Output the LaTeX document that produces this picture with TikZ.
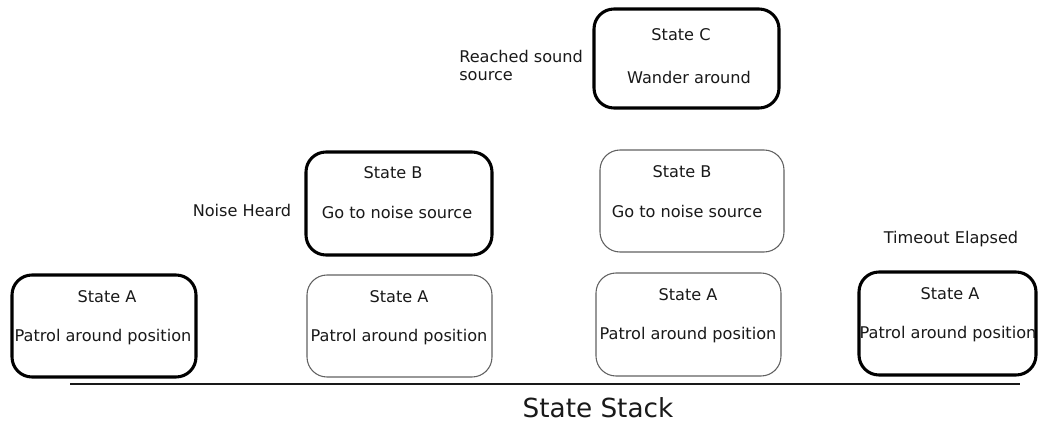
\documentclass[tikz,border=0pt]{standalone}
\usepackage{fontspec}
\setmainfont{DejaVu Sans}
\begin{document}
\begin{tikzpicture}[x=0.75pt,y=-0.75pt,
  statebox/.style={draw=black,line width=2.3pt,rounded corners=15pt,inner sep=0pt},
  thinbox/.style={draw=black!62,line width=0.8pt,rounded corners=15pt,inner sep=0pt},
  txt/.style={font=\fontsize{12.1}{14}\selectfont,inner sep=0pt,text=black!90}]
\useasboundingbox (0,0) rectangle (1038,421);
% boxes
\path[statebox] (12,275) rectangle (196,377);
\node[inner sep=0pt] (a1) at (104,326) {};
\path[thinbox] (307,275) rectangle (492,377);
\node[inner sep=0pt] (a2) at (399.5,326) {};
\path[thinbox] (596,273) rectangle (781,376);
\node[inner sep=0pt] (a3) at (688.5,324.5) {};
\path[statebox] (859,272) rectangle (1036,375);
\node[inner sep=0pt] (a4) at (947.5,323.5) {};
\path[statebox] (306,152) rectangle (492,255);
\node[inner sep=0pt] (b1) at (399,203.5) {};
\path[thinbox] (600,150) rectangle (784,252);
\node[inner sep=0pt] (b2) at (692,201) {};
\path[statebox] (594,9) rectangle (779,108);
\node[inner sep=0pt] (c) at (686.5,58.5) {};
% box texts
\node[txt] (a1t) at (107,297) {State A};
\node[txt] (a1d) at (103,337) {Patrol around position};
\node[txt] (a2t) at (399,297) {State A};
\node[txt] (a2d) at (399,337) {Patrol around position};
\node[txt] (a3t) at (688,295) {State A};
\node[txt] (a3d) at (688,335) {Patrol around position};
\node[txt] (a4t) at (950,294) {State A};
\node[txt] (a4d) at (948,334) {Patrol around position};
\node[txt] (b1t) at (393,173) {State B};
\node[txt] (b1d) at (397,212) {Go to noise source};
\node[txt] (b2t) at (682,172) {State B};
\node[txt] (b2d) at (687,211) {Go to noise source};
\node[txt] (ct) at (681,35) {State C};
\node[txt] (cd) at (689,77) {Wander around};
% labels
\node[txt,anchor=west] (l1) at (459,56) {Reached sound};
\node[txt,anchor=west] (l2) at (459,76) {source};
\node[txt] (l3) at (242,210) {Noise Heard};
\node[txt] (l4) at (951,239) {Timeout Elapsed};
% base line
\coordinate (s1) at (70,384);
\coordinate (s2) at (1020,384);
\draw[line width=0.8pt,black!90] (s1) -- (s2);
\node[font=\fontsize{19.7}{23}\selectfont,inner sep=0pt,text depth=0pt,anchor=base,text=black!90] (stack) at (598,417) {State Stack};
\end{tikzpicture}
\end{document}
